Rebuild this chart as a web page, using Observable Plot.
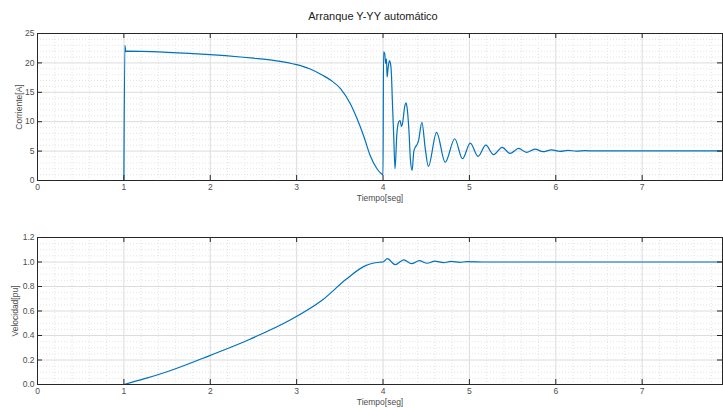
<!DOCTYPE html>
<html><head><meta charset="utf-8">
<script src="https://cdn.jsdelivr.net/npm/d3@7"></script>
<script src="https://cdn.jsdelivr.net/npm/@observablehq/plot@0.6"></script>
<style>
body{margin:0;background:#fff;}
#wrap{position:relative;width:723px;height:408px;overflow:hidden;font-family:"Liberation Sans",Arial,sans-serif;}
#title{position:absolute;left:0;top:10px;width:746px;text-align:center;font-size:11px;color:#1a1a1a;}
#p1{position:absolute;left:0;top:0;}
#p2{position:absolute;left:0;top:204px;}
</style></head>
<body><div id="wrap"><div id="p1"></div><div id="p2"></div><div id="title"></div></div>
<script>
const titleText = "Arranque Y-YY automático";
const xLabel = "Tiempo[seg]";
const yLabelCur = "Corriente[A]";
const yLabelVel = "Velocidad[pu]";
const xTicks = [0,1,2,3,4,5,6,7];
const yTicksCur = [0,5,10,15,20,25];
const yTicksVel = [0,0.2,0.4,0.6,0.8,1,1.2];

// segment 0 = before switch-on (t <= 1), segment 1 = after
const tCur = [0,1.0, 1.0,1.012,1.022,1.03,1.5,2.0,2.35,2.5,2.75,3.0,3.15,3.3,3.4,3.51,3.62,3.70,3.78,3.85,3.93,3.97,4.0,4.006,
  4.019,4.03,4.04,4.047,4.058,4.074,4.085,4.097,4.108,4.124,4.139,4.16,4.18,4.197,4.213,4.228,4.25,4.267,4.28,4.30,4.317,4.337,
  4.356,4.375,4.39,4.41,4.45,4.49,4.525,4.62,4.72,4.83,4.92,5.01,5.10,5.19,5.28,5.38,5.47,5.57,5.66,5.76,5.85,5.95,6.05,6.14,6.24,6.34,6.44,6.6,7.93];
const iCur = [0,0, 0,23.0,21.9,22.0,21.8,21.4,21.0,20.8,20.4,19.7,19.0,17.9,17.0,15.6,13.1,10.5,7.4,4.3,2.0,1.3,1.0,21.9,
  21.6,19.9,20.7,17.6,19.0,20.4,20.0,18.2,13.6,7.4,2.0,7.9,9.9,10.2,9.2,9.9,12.5,13.2,12.2,8.5,3.6,1.7,
  4.9,5.7,6.0,6.7,9.9,5.3,2.4,8.2,3.1,7.1,3.7,6.35,4.1,6.0,4.4,5.65,4.6,5.45,4.8,5.35,4.9,5.2,4.95,5.12,5.0,5.08,5.03,5.05,5.05];
const segCur = [0,0, ...Array(iCur.length - 2).fill(1)];

const tVel = [0,1.0, 1.0,1.25,1.5,2.0,2.46,2.93,3.29,3.58,3.78,3.88,3.96,4.0,4.05,4.14,4.24,4.33,4.42,4.51,4.6,4.7,4.79,4.89,4.97,5.2,7.93];
const vVel = [0,0, 0,0.05,0.104,0.238,0.37,0.528,0.685,0.863,0.964,0.99,0.998,1.0,1.027,0.978,1.018,0.986,1.011,0.99,1.007,0.995,1.005,0.997,1.003,1.0,1.0];
const segVel = [0,0, ...Array(vVel.length - 2).fill(1)];

const W = 723, H = 204, mL = 37, mR = 1, mT = 33, mB = 24;
const plotW = W - mL - mR, plotH = H - mT - mB;
const xDomain = [0, 7.93];
const xMinor = d3.range(0.2, 7.9, 0.2).filter(v => Math.abs(v - Math.round(v)) > 1e-6);

function panel(data, yDomain, yTicks, yMinor, yLabel, yLabelOffset) {
  return Plot.plot({
    width: W, height: H,
    marginLeft: mL, marginRight: mR, marginTop: mT, marginBottom: mB,
    style: {fontFamily: '"Liberation Sans", Arial, sans-serif', fontSize: "8.5px", color: "#4d4d4d", background: "#fff"},
    x: {domain: xDomain},
    y: {domain: yDomain},
    marks: [
      Plot.ruleX(xMinor, {x: d => d, stroke: "#e4e4e4", strokeDasharray: "1,2"}),
      Plot.ruleY(yMinor, {y: d => d, stroke: "#e4e4e4", strokeDasharray: "1,2"}),
      Plot.ruleX(xTicks, {x: d => d, stroke: "#dcdcdc"}),
      Plot.ruleY(yTicks, {y: d => d, stroke: "#dcdcdc"}),
      Plot.line(data, {x: "t", y: "v", z: "s", stroke: "#0072BD", strokeWidth: 1.2, curve: "monotone-x"}),
      Plot.frame({stroke: "#262626"}),
      Plot.tickY(yTicks, {y: d => d, stroke: "#262626", insetRight: plotW - 5}),
      Plot.tickY(yTicks, {y: d => d, stroke: "#262626", insetLeft: plotW - 5}),
      Plot.tickX(xTicks, {x: d => d, stroke: "#262626", insetTop: plotH - 5}),
      Plot.tickX(xTicks, {x: d => d, stroke: "#262626", insetBottom: plotH - 5}),
      Plot.axisX(xTicks, {tickSize: 0, tickPadding: 3, label: xLabel, labelAnchor: "center", labelArrow: "none", labelOffset: 20, fontSize: 8.5}),
      Plot.axisY(yTicks, {tickSize: 0, tickPadding: 3, label: yLabel, labelAnchor: "center", labelArrow: "none", labelOffset: yLabelOffset, fontSize: 8.5})
    ]
  });
}

const cur = tCur.map((t, i) => ({t, v: iCur[i], s: segCur[i]}));
const vel = tVel.map((t, i) => ({t, v: vVel[i], s: segVel[i]}));
document.getElementById("title").textContent = titleText;
document.getElementById("p1").append(panel(cur, [0, 25], yTicksCur, d3.range(1, 25, 1).filter(v => v % 5 !== 0), yLabelCur, 22));
document.getElementById("p2").append(panel(vel, [0, 1.2], yTicksVel, d3.range(0.05, 1.2, 0.05).filter(v => Math.abs(v * 5 - Math.round(v * 5)) > 1e-6), yLabelVel, 26));
</script></body></html>
